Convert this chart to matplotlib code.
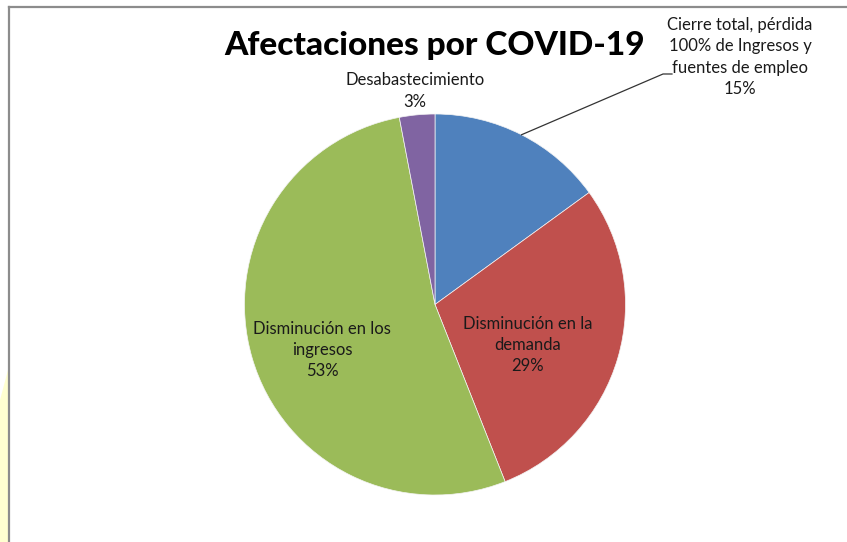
import numpy as np
import matplotlib
matplotlib.use("Agg")
import matplotlib.pyplot as plt
from matplotlib.patches import Polygon

# ---- data ----
labels = ["Cierre total, pérdida\n100% de Ingresos y\nfuentes de empleo",
          "Disminución en la\ndemanda",
          "Disminución en los\ningresos",
          "Desabastecimiento"]
values = [15, 29, 53, 3]
colors = ["#4F81BD", "#C0504D", "#9BBB59", "#8064A2"]
title = "Afectaciones por COVID-19"

W, H = 847, 542
fig = plt.figure(figsize=(W / 100, H / 100), dpi=100)
fig.patch.set_facecolor("white")

# faint watermark fragment at left edge
wm = Polygon([[0, 0], [8 / W, 0], [8 / W, (542 - 370) / H], [0, (542 - 400) / H]],
             closed=True, transform=fig.transFigure, facecolor="#FFFFD0",
             edgecolor="none", zorder=0)
fig.add_artist(wm)

# border (left and top visible)
fig.add_artist(plt.Line2D([8.5 / W, 8.5 / W], [0, 1 - 7 / H], transform=fig.transFigure,
                          color="#8C8C8C", lw=1.6))
fig.add_artist(plt.Line2D([8.5 / W, 1], [1 - 7 / H, 1 - 7 / H], transform=fig.transFigure,
                          color="#8C8C8C", lw=1.6))

cx, cy, r = 435, 304.5, 190.5
ax = fig.add_axes([(cx - r) / W, (H - cy - r) / H, 2 * r / W, 2 * r / H])
ax.set_xlim(-1, 1)
ax.set_ylim(-1, 1)
ax.set_aspect("equal")
ax.axis("off")

wedges, _ = ax.pie(values, colors=colors, startangle=90, counterclock=False,
                   radius=1, center=(0, 0), frame=False,
                   wedgeprops=dict(linewidth=0.5, edgecolor="#f4f4f4"))
ax.set_xlim(-1, 1)
ax.set_ylim(-1, 1)

font = "Lato"
fs = 12
label_pos = [(1.601, 1.299), (0.488, -0.213), (-0.593, -0.239), (-0.105, 1.121)]
for lab, v, (x, y) in zip(labels, values, label_pos):
    ax.text(x, y, f"{lab}\n{v}%", ha="center", va="center", fontsize=fs,
            family=font, color="#1a1a1a", linespacing=1.4, clip_on=False)

# leader line for first slice
w0 = wedges[0]
mid = np.deg2rad((w0.theta1 + w0.theta2) / 2)
sx, sy = np.cos(mid), np.sin(mid)
ax.plot([sx, 1.197, 1.244], [sy, 1.210, 1.210], color="#333333", lw=0.9,
        clip_on=False)

fig.text(435 / W, 1 - 45 / H, title, ha="center", va="center", fontsize=24,
         family=font, fontweight="black", color="black")

fig.savefig("out.png", dpi=100)
